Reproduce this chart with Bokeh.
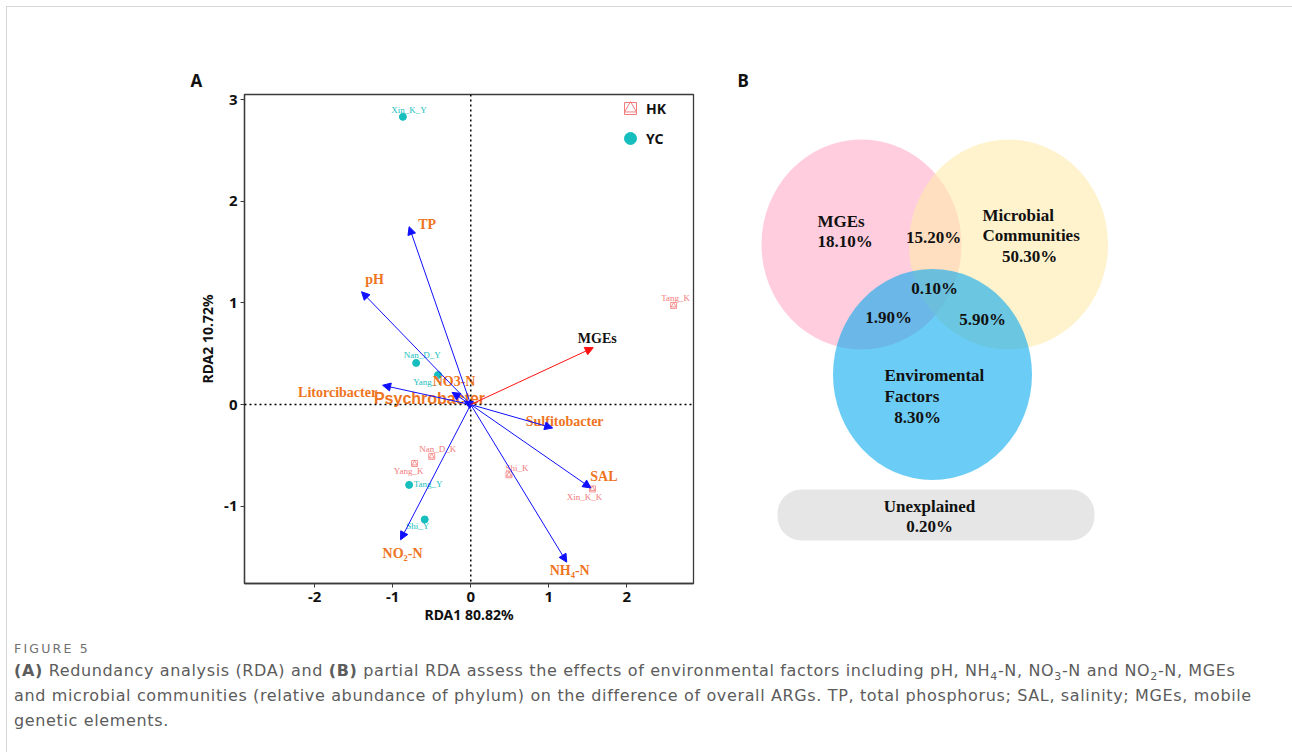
from bokeh.plotting import figure
from bokeh.models import (ColumnDataSource, Arrow, NormalHead, Span, Title,
                          Legend, LegendItem, Range1d, BoxAnnotation, Div,
                          CDSView, IndexFilter, PrintfTickFormatter)
from bokeh.layouts import row, column
from bokeh.core.properties import value
from bokeh.embed import file_html
from bokeh.resources import INLINE

# ---------------- data: RDA sample scores ----------------
hk_names = ["Tang_K", "Nan_D_K", "Yang_K", "Shi_K", "Xin_K_K"]
hk_rda1 = [2.60, -0.50, -0.72, 0.49, 1.56]
hk_rda2 = [0.975, -0.51, -0.58, -0.69, -0.83]

yc_names = ["Xin_K_Y", "Nan_D_Y", "Yang_Y", "Tang_Y", "Shi_Y"]
yc_rda1 = [-0.87, -0.70, -0.42, -0.79, -0.59]
yc_rda2 = [2.83, 0.41, 0.29, -0.79, -1.13]

# explanatory variables (arrows)
env_names = ["TP", "pH", "NO3-N", "Litorcibacter", "Psychrobacter",
             "Sulfitobacter", "SAL", "NH\u2084-N", "NO\u2082-N"]
env_rda1 = [-0.79, -1.40, -0.24, -1.13, -0.08, 1.05, 1.54, 1.23, -0.90]
env_rda2 = [1.75, 1.11, 0.12, 0.19, 0.03, -0.23, -0.82, -1.55, -1.33]

mge_names = ["MGEs"]
mge_rda1 = [1.57]
mge_rda2 = [0.56]

x_ticks = [-2, -1, 0, 1, 2]
y_ticks = [-1, 0, 1, 2, 3]

# ---------------- data: variation partitioning (panel B) ----------------
venn_sets = ["MGEs", "Microbial Communities", "Enviromental Factors"]
venn_parts = ["MGEs only", "MGEs & Microbial", "Microbial only", "All three",
              "MGEs & Env", "Microbial & Env", "Env only", "Unexplained"]
venn_pct = [18.10, 15.20, 50.30, 0.10, 1.90, 5.90, 8.30, 0.20]

# ---------------- layout / style (not data) ----------------
hk_lab_dx = [2, 6, -6, 8, -8]
hk_lab_dy = [-7, -7, 7, -7, 8]
yc_lab_dx = [6, 6, -10, 19, -7]
yc_lab_dy = [-7, -8, 7, -1, 7]
env_lab_dx = [18, 13, 2, -45, -35, 12, 13, 3, 2]
env_lab_dy = [-2, -12, -11, 7, -3, -6, -11, 8, 14]
PSY = 4  # index of the label drawn in a different font

HK_COLOR = "#F27B7B"
YC_COLOR = "#17BEBE"
ENV_COLOR = "#EE7422"
AX_COLOR = "#3a3a3a"
NAN = float("nan")

# page offset of the layout (border at 6px, content at 7px)
OX, OY = 7, 7

# ---------------- panel A ----------------
pA = figure(width=700 - OX, height=630 - OY,
            x_range=Range1d(-2.90, 2.855), y_range=Range1d(-1.76, 3.05),
            output_backend="svg", toolbar_location=None,
            min_border_left=244 - OX, min_border_right=7,
            min_border_top=94 - OY, min_border_bottom=47,
            background_fill_color="white", border_fill_color="white")
pA.title = Title(text="A", align="left", offset=-54, standoff=6,
                 text_font="Noto Sans", text_font_style="bold",
                 text_font_size="17px", text_color="#111111")
pA.xgrid.visible = False
pA.ygrid.visible = False
pA.outline_line_color = AX_COLOR
pA.outline_line_width = 1.3
for ax in (pA.xaxis, pA.yaxis):
    ax.axis_line_color = AX_COLOR
    ax.axis_line_width = 1.3
    ax.major_tick_line_color = AX_COLOR
    ax.major_tick_in = 0
    ax.major_tick_out = 4
    ax.minor_tick_line_color = None
    ax.major_label_text_font = "Noto Sans"
    ax.major_label_text_font_style = "bold"
    ax.major_label_text_font_size = "15px"
    ax.major_label_text_color = "#111111"
    ax.axis_label_text_font = "Noto Sans"
    ax.axis_label_text_font_style = "bold"
    ax.axis_label_text_font_size = "14px"
    ax.axis_label_text_color = "#111111"
    ax.formatter = PrintfTickFormatter(format="%d")
pA.xaxis.axis_label = "RDA1 80.82%"
pA.yaxis.axis_label = "RDA2 10.72%"
pA.xaxis.ticker = x_ticks
pA.yaxis.ticker = y_ticks
pA.xaxis.axis_label_standoff = 0
pA.xaxis.major_label_standoff = 4
pA.yaxis.axis_label_standoff = 4
pA.yaxis.major_label_standoff = 3

pA.add_layout(Span(location=0, dimension="height", line_color="black",
                   line_dash="2 3", line_width=1.5))
pA.add_layout(Span(location=0, dimension="width", line_color="black",
                   line_dash="2 3", line_width=1.5))

env_src = ColumnDataSource(dict(x0=[0] * len(env_names), y0=[0] * len(env_names),
                                x=env_rda1, y=env_rda2, name=env_names,
                                dx=env_lab_dx, dy=env_lab_dy))
pA.add_layout(Arrow(end=NormalHead(size=8, fill_color="#1010FF", line_color="#1010FF",
                                   line_width=1),
                    x_start="x0", y_start="y0", x_end="x", y_end="y",
                    source=env_src, line_color="#1010FF", line_width=1))

mge_src = ColumnDataSource(dict(x0=[0], y0=[0], x=mge_rda1, y=mge_rda2,
                                name=mge_names, dx=[4], dy=[-9]))
pA.add_layout(Arrow(end=NormalHead(size=8, fill_color="#FF1010", line_color="#FF1010",
                                   line_width=1),
                    x_start="x0", y_start="y0", x_end="x", y_end="y",
                    source=mge_src, line_color="#FF1010", line_width=1))

hk_src = ColumnDataSource(dict(x=hk_rda1, y=hk_rda2, name=hk_names,
                               dx=hk_lab_dx, dy=hk_lab_dy))
yc_src = ColumnDataSource(dict(x=yc_rda1, y=yc_rda2, name=yc_names,
                               dx=yc_lab_dx, dy=yc_lab_dy))

pA.scatter(x="x", y="y", source=hk_src, marker="square", size=6,
           fill_color=None, line_color=HK_COLOR, line_width=0.8)
pA.scatter(x="x", y="y", source=hk_src, marker="triangle", size=5,
           fill_color=None, line_color=HK_COLOR, line_width=0.8)
pA.scatter(x="x", y="y", source=yc_src, marker="circle", size=7,
           fill_color=YC_COLOR, line_color=YC_COLOR)

pA.text(x="x", y="y", text="name", source=hk_src, x_offset="dx", y_offset="dy",
        text_font=value("Liberation Serif"), text_font_size="9px",
        text_color=HK_COLOR, text_align="center", text_baseline="middle")
pA.text(x="x", y="y", text="name", source=yc_src, x_offset="dx", y_offset="dy",
        text_font=value("Liberation Serif"), text_font_size="9px",
        text_color=YC_COLOR, text_align="center", text_baseline="middle")

serif_idx = [i for i in range(len(env_names)) if i != PSY]
pA.text(x="x", y="y", text="name", source=env_src, x_offset="dx", y_offset="dy",
        view=CDSView(filter=IndexFilter(serif_idx)),
        text_font=value("Liberation Serif"), text_font_size="14px",
        text_font_style="bold",
        text_color=ENV_COLOR, text_align="center", text_baseline="middle")
pA.text(x="x", y="y", text="name", source=env_src, x_offset="dx", y_offset="dy",
        view=CDSView(filter=IndexFilter([PSY])),
        text_font=value("Liberation Sans"), text_font_size="16px",
        text_font_style="bold",
        text_color=ENV_COLOR, text_align="center", text_baseline="middle")
pA.text(x="x", y="y", text="name", source=mge_src, x_offset="dx", y_offset="dy",
        text_font=value("Liberation Serif"), text_font_size="14px",
        text_font_style="bold", text_color="#111111",
        text_align="center", text_baseline="middle")

# legend (dedicated legend glyphs; NaN points are never drawn)
leg_sq = pA.scatter(x=[NAN], y=[NAN], marker="square", size=14, fill_color=None,
                    line_color=HK_COLOR, line_width=1)
leg_tr = pA.scatter(x=[NAN], y=[NAN], marker="triangle", size=11, fill_color=None,
                    line_color=HK_COLOR, line_width=1)
leg_ci = pA.scatter(x=[NAN], y=[NAN], marker="circle", size=13, fill_color=YC_COLOR,
                    line_color=YC_COLOR)
legend = Legend(items=[LegendItem(label="HK", renderers=[leg_sq, leg_tr]),
                       LegendItem(label="YC", renderers=[leg_ci])],
                location=(370, 430), orientation="vertical",
                glyph_width=32, glyph_height=30, padding=0, margin=0,
                spacing=0, label_standoff=0,
                label_text_font="Noto Sans", label_text_font_style="bold",
                label_text_font_size="14px", label_text_color="#111111",
                background_fill_alpha=0, border_line_color=None)
pA.add_layout(legend)

# ---------------- panel B (coordinates in page pixels) ----------------
H = 753
pB = figure(width=1289 - 700, height=630 - OY, x_range=Range1d(700, 1289),
            y_range=Range1d(H - 583, H - 94), output_backend="svg",
            toolbar_location=None, min_border_left=0, min_border_right=0,
            min_border_top=94 - OY, min_border_bottom=47,
            x_axis_location=None, y_axis_location=None)
pB.title = Title(text="B", align="left", offset=37, standoff=6,
                 text_font="Noto Sans", text_font_style="bold",
                 text_font_size="17px", text_color="#111111")
pB.outline_line_color = None
pB.xgrid.visible = False
pB.ygrid.visible = False

venn_cx = [861, 1008, 932]
venn_cy = [H - 244, H - 244, H - 374]
venn_w = [200, 199, 199]
venn_h = [210, 210, 211]
venn_fill = ["#FFACC8", "#FFEBAC", "#08AAEE"]
venn_alpha = [0.6, 0.6, 0.6]
pB.ellipse(x=venn_cx, y=venn_cy, width=venn_w, height=venn_h,
           fill_color=venn_fill, fill_alpha=venn_alpha, line_color=None)

pB.add_layout(BoxAnnotation(left=777, right=1094, bottom=H - 540, top=H - 489,
                            fill_color="#E6E6E6", fill_alpha=1, line_color=None,
                            border_radius=24, level="underlay"))

pct = [f"{v:.2f}%" for v in venn_pct]
venn_text = ["MGEs", pct[0], pct[1], "Microbial", "Communities", pct[2],
             pct[3], pct[4], pct[5], "Enviromental", "Factors", pct[6],
             "Unexplained", pct[7]]
venn_tx = [817, 817, 933, 982, 982, 1029, 934, 888, 982, 884, 884, 917, 929, 929]
venn_ty = [221, 241, 237, 215, 235, 256, 288, 317, 319, 375, 396, 417, 506, 526]
venn_align = ["left", "left", "center", "left", "left", "center", "center",
              "center", "center", "left", "left", "center", "center", "center"]
vt_src = ColumnDataSource(dict(x=venn_tx, y=[H - v for v in venn_ty],
                               text=venn_text, align=venn_align))
pB.text(x="x", y="y", text="text", source=vt_src, text_align="align",
        text_baseline="middle", text_font=value("Liberation Serif"),
        text_font_style="bold", text_font_size="17px", text_color="#111111")

# ---------------- caption ----------------
sub = '<sub style="font-size:11px;line-height:0">'
cap_html = (
    '<div style="font-family:\'DejaVu Sans\',sans-serif;color:#5c5c5c;'
    'padding-left:2px;white-space:nowrap">'
    '<div style="font-size:12.5px;color:#707070;letter-spacing:2.2px;'
    'margin-top:6px;line-height:16px">FIGURE 5</div>'
    '<div style="font-size:16px;line-height:25px;margin-top:1px;letter-spacing:0.64px">'
    '<b>(A)</b> Redundancy analysis (RDA) and <b>(B)</b> partial RDA assess the '
    'effects of environmental factors including pH, NH' + sub + '4</sub>-N, NO'
    + sub + '3</sub>-N and NO' + sub + '2</sub>-N, MGEs<br>'
    'and microbial communities (relative abundance of phylum) on the difference '
    'of overall ARGs. TP, total phosphorus; SAL, salinity; MGEs, mobile<br>'
    'genetic elements.</div></div>'
)
cap = Div(text=cap_html, width=1289 - OX, height=112)

layout = column(row(pA, pB), cap, margin=(6, 0, 0, 6),
                styles={"border-top": "1px solid #d6d6d6",
                        "border-left": "1px solid #d6d6d6",
                        "border-right": "1px solid #d6d6d6"})

open("out.html", "w").write(file_html(layout, INLINE))
